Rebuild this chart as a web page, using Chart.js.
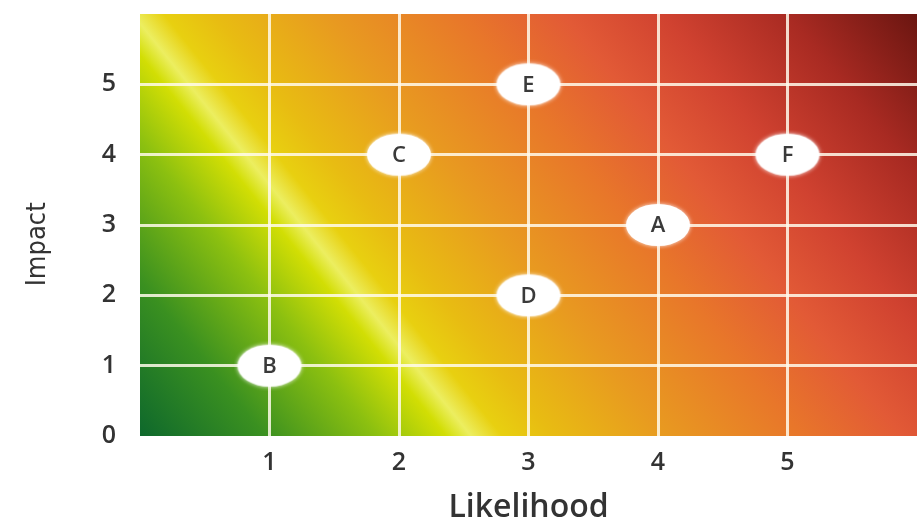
<!DOCTYPE html>
<html>
<head>
<meta charset="utf-8">
<script src="https://cdn.jsdelivr.net/npm/chart.js@4/dist/chart.umd.min.js"></script>
<style>
  html, body { margin: 0; padding: 0; background: #fff; }
  #wrap { width: 917px; height: 527px; }
</style>
</head>
<body>
<div id="wrap"><canvas id="riskChart"></canvas></div>
<script>
// Risk matrix - likelihood vs impact

const riskLabels = ['A', 'B', 'C', 'D', 'E', 'F'];
const likelihood = [4, 1, 2, 3, 3, 5];
const impact = [3, 1, 4, 2, 5, 4];
const tickValues = [0, 1, 2, 3, 4, 5];

// white ellipse marker used as point style
const makeEllipse = () => {
    const c = document.createElement('canvas');
    c.width = 72;
    c.height = 50;
    const ctx = c.getContext('2d');
    ctx.shadowColor = 'rgba(255,255,255,0.9)';
    ctx.shadowBlur = 4;
    ctx.fillStyle = '#ffffff';
    ctx.beginPath();
    ctx.ellipse(36, 25, 32, 21, 0, 0, Math.PI * 2);
    ctx.fill();
    return c;
};

// diagonal green -> yellow -> red background
const heatBackground = {
    id: 'heatBackground',
    beforeDraw(chart) {
        const { ctx, chartArea: a } = chart;
        const g = ctx.createLinearGradient(a.left, a.bottom, a.left + 760, a.bottom - 610);
        g.addColorStop(0.00, '#0e682c');
        g.addColorStop(0.10, '#3a9020');
        g.addColorStop(0.19, '#8cc010');
        g.addColorStop(0.245, '#d2de04');
        g.addColorStop(0.265, '#ecee60');
        g.addColorStop(0.29, '#e8d010');
        g.addColorStop(0.33, '#e8bc12');
        g.addColorStop(0.42, '#e89a20');
        g.addColorStop(0.53, '#e8762a');
        g.addColorStop(0.61, '#e25a36');
        g.addColorStop(0.69, '#d04230');
        g.addColorStop(0.79, '#a82a22');
        g.addColorStop(0.89, '#6c1611');
        g.addColorStop(1.00, '#5a100c');
        ctx.save();
        ctx.fillStyle = g;
        ctx.fillRect(a.left, a.top, a.right - a.left, a.bottom - a.top);
        ctx.restore();
    }
};

// letters inside the ellipses
const pointLetters = {
    id: 'pointLetters',
    afterDatasetsDraw(chart) {
        const { ctx } = chart;
        const meta = chart.getDatasetMeta(0);
        ctx.save();
        ctx.font = '600 22px "Open Sans"';
        ctx.fillStyle = '#3a3a3a';
        ctx.textAlign = 'center';
        ctx.textBaseline = 'middle';
        meta.data.forEach((pt, i) => {
            ctx.fillText(riskLabels[i], pt.x, pt.y + 1);
        });
        ctx.restore();
    }
};

const gridColor = (c) => (c.tick && c.tick.value > 0 && c.tick.value < 6) ? 'rgba(255,250,235,0.85)' : 'rgba(0,0,0,0)';
const tickFont = { family: 'Open Sans', size: 25, weight: '600' };
const noPad = (s) => { s.paddingTop = 0; s.paddingBottom = 0; s.paddingLeft = 0; s.paddingRight = 0; };

new Chart(document.getElementById('riskChart'), {
    type: 'scatter',
    data: {
        datasets: [{
            data: likelihood.map((x, i) => ({ x: x, y: impact[i] })),
            pointStyle: makeEllipse(),
            pointRadius: 30,
            pointHoverRadius: 30
        }]
    },
    options: {
        responsive: true,
        maintainAspectRatio: false,
        animation: false,
        layout: { autoPadding: false, padding: { top: 14, right: 0, bottom: 0, left: 0 } },
        plugins: {
            legend: { display: false },
            tooltip: { enabled: false }
        },
        scales: {
            x: {
                type: 'linear',
                min: 0,
                max: 6,
                afterBuildTicks: (s) => { s.ticks = [0, 1, 2, 3, 4, 5, 6].map(v => ({ value: v })); },
                afterFit: (s) => { s.height = 91; noPad(s); },
                grid: { color: gridColor, lineWidth: 3, drawTicks: false },
                border: { display: false },
                ticks: {
                    padding: 12,
                    color: '#333',
                    font: tickFont,
                    callback: (v) => tickValues.includes(v) && v > 0 ? String(v) : ''
                },
                title: {
                    display: true,
                    text: 'Likelihood',
                    color: '#333',
                    font: { family: 'Open Sans', size: 32, weight: '600' },
                    padding: { top: 0, bottom: 0 }
                }
            },
            y: {
                type: 'linear',
                min: 0,
                max: 6,
                afterBuildTicks: (s) => { s.ticks = [0, 1, 2, 3, 4, 5, 6].map(v => ({ value: v })); },
                afterFit: (s) => { s.width = 140; noPad(s); },
                grid: { color: gridColor, lineWidth: 3, drawTicks: false },
                border: { display: false },
                ticks: {
                    padding: 24,
                    color: '#333',
                    font: tickFont,
                    callback: (v) => tickValues.includes(v) ? String(v) : ''
                },
                title: {
                    display: true,
                    text: 'Impact     ',
                    color: '#333',
                    font: { family: 'DejaVu Sans Condensed', size: 27 },
                    padding: { top: 22, bottom: 0 }
                }
            }
        }
    },
    plugins: [heatBackground, pointLetters]
});
</script>
</body>
</html>
